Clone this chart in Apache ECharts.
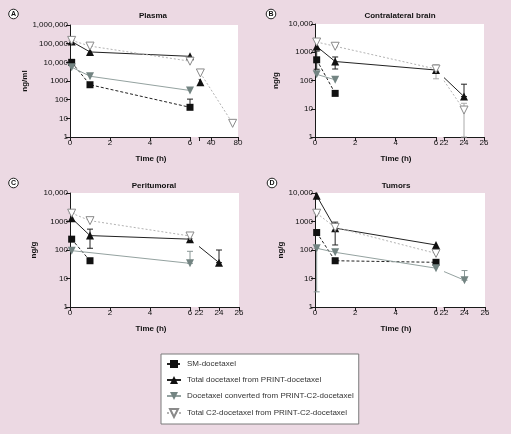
<!DOCTYPE html>
<html><head><meta charset="utf-8">
<script src="https://cdn.jsdelivr.net/npm/echarts@6/dist/echarts.min.js"></script>
<style>html,body{margin:0;padding:0;background:#ecd9e3;} #c{width:511px;height:434px;}</style>
</head><body><div id="c"></div>
<script>
// ---------- data ----------
const seriesNames = ['SM-docetaxel', 'Total docetaxel from PRINT-docetaxel', 'Docetaxel converted from PRINT-C2-docetaxel', 'Total C2-docetaxel from PRINT-C2-docetaxel'];
const panelTitles = ['Plasma', 'Contralateral brain', 'Peritumoral', 'Tumors'];
const panelLetters = ['A', 'B', 'C', 'D'];
const yNames = ['ng/ml', 'ng/g', 'ng/g', 'ng/g'];
const yMax = [1000000, 10000, 10000, 10000];
const xMaxEarly = 6;
const xTicksEarlyInterval = 2;
const xLateMin = 22;
const xLateMaxA = 80;
const xLateMax = 26;
const xLateTicksA = [22, 40, 80];
const xLateLabelsA = [40, 80];
const xLabel = 'Time (h)';

// [time (h), concentration]
const plasmaSM    = [[0.083, 10000], [1, 630], [6, 39]];
const plasmaTotal = [[0.083, 130000], [1, 36000], [6, 21000], [24, 850]];
const plasmaConv  = [[0.083, 5500], [1, 1800], [6, 310]];
const plasmaC2    = [[0.083, 150000], [1, 74000], [6, 11500], [24, 2700], [72, 5.4]];

const brainSM    = [[0.083, 540], [1, 35]];
const brainTotal = [[0.083, 1600], [1, 470], [6, 235], [24, 27]];
const brainConv  = [[0.083, 165], [1, 106]];
const brainC2    = [[0.083, 2300], [1, 1630], [6, 255], [24, 9]];

const periSM    = [[0.083, 240], [1, 42]];
const periTotal = [[0.083, 1300], [1, 320], [6, 240], [24, 36]];
const periConv  = [[0.083, 95], [6, 34]];
const periC2    = [[0.083, 1960], [1, 1070], [6, 310]];

const tumSM    = [[0.083, 410], [1, 42], [6, 37]];
const tumTotal = [[0.083, 8000], [1, 585], [6, 150]];
const tumConv  = [[0.083, 115], [1, 83], [6, 23], [24, 8.7]];
const tumC2    = [[0.083, 1950], [1, 620], [6, 76]];

// error bars: [time, low, high]
const plasmaSMErr = [[6, 39, 107]];
const plasmaTotalErr = [];
const plasmaConvErr = [];
const plasmaC2Err = [[0.083, 150000, 190000]];

const brainSMErr = [[0.083, 250, 1100]];
const brainTotalErr = [[1, 255, 680], [24, 27, 74]];
const brainConvErr = [];
const brainC2Err = [[6, 115, 362], [24, 1, 15.6]];

const periSMErr = [];
const periTotalErr = [[1, 115, 540], [24, 36, 100]];
const periConvErr = [[6, 34, 90]];
const periC2Err = [[0.083, 1960, 2300], [6, 250, 340]];

const tumSMErr = [];
const tumTotalErr = [[1, 150, 950]];
const tumConvErr = [[0.083, 3.4, 115], [24, 8.7, 19]];
const tumC2Err = [[0.083, 1950, 2450]];

const panelData = [
  [plasmaSM, plasmaTotal, plasmaConv, plasmaC2],
  [brainSM, brainTotal, brainConv, brainC2],
  [periSM, periTotal, periConv, periC2],
  [tumSM, tumTotal, tumConv, tumC2]
];
const panelErr = [
  [plasmaSMErr, plasmaTotalErr, plasmaConvErr, plasmaC2Err],
  [brainSMErr, brainTotalErr, brainConvErr, brainC2Err],
  [periSMErr, periTotalErr, periConvErr, periC2Err],
  [tumSMErr, tumTotalErr, tumConvErr, tumC2Err]
];

// ---------- layout / style ----------
const layout = [
  {ax: 70, top: 25, bottom: 137, s1r: 190, s2l: 199, right: 238, nameGap: 41, title: [153, 16], tx: [151, 159], lab: [13.5, 14]},
  {ax: 315, top: 24, bottom: 137, s1r: 436, s2l: 444, right: 484, nameGap: 35, title: [400, 16], tx: [396, 159], lab: [271, 14]},
  {ax: 70, top: 193, bottom: 307, s1r: 190, s2l: 199, right: 239, nameGap: 32, title: [154, 186], tx: [151, 329], lab: [13.5, 183]},
  {ax: 315, top: 193, bottom: 307, s1r: 436, s2l: 444, right: 485, nameGap: 27, title: [396, 186], tx: [396, 329], lab: [272, 183]}
];
const FONT = 'Liberation Sans, Arial, sans-serif';
const styles = [
  {symbol: 'rect', symbolSize: 7, itemStyle: {color: '#111'}, lineStyle: {color: '#222', type: [3, 2], width: 1}, err: '#222'},
  {symbol: 'triangle', symbolSize: 8, itemStyle: {color: '#111'}, lineStyle: {color: '#222', width: 1}, err: '#222'},
  {symbol: 'triangle', symbolRotate: 180, symbolSize: 8, itemStyle: {color: '#738482'}, lineStyle: {color: '#94a2a0', width: 1}, err: '#8a9896'},
  {symbol: 'triangle', symbolRotate: 180, symbolSize: 8, itemStyle: {color: '#ffffff', borderColor: '#8a8a8a', borderWidth: 1}, lineStyle: {color: '#b3b3b3', type: [2, 2], width: 1}, err: '#aaaaaa'}
];

function yFmt(v) {
  if (v >= 10000) return String(Math.round(v)).replace(/\B(?=(\d{3})+(?!\d))/g, ',');
  return String(Math.round(v));
}

let chart = null;
const grid = [], xAxis = [], yAxis = [], series = [], graphic = [];
const axisLineStyle = {show: true, lineStyle: {color: '#1a1a1a', width: 1}};
const tickStyle = {show: true, inside: false, length: 4, lineStyle: {color: '#1a1a1a', width: 1}};
const labStyle = {fontSize: 8, color: '#111', fontFamily: FONT, margin: 2};

layout.forEach((L, p) => {
  const h = L.bottom - L.top;
  const base = grid.length;
  grid.push({left: L.ax, top: L.top, width: L.right - L.ax, height: h, show: true, backgroundColor: '#ffffff', borderWidth: 0, containLabel: false, outerBoundsMode: 'none'});
  grid.push({left: L.ax, top: L.top, width: L.s1r - L.ax, height: h, containLabel: false, outerBoundsMode: 'none'});
  grid.push({left: L.s2l, top: L.top, width: L.right - L.s2l, height: h, containLabel: false, outerBoundsMode: 'none'});
  xAxis.push({gridIndex: base, type: 'value', show: false, min: 0, max: 1});
  yAxis.push({gridIndex: base, type: 'value', show: false, min: 0, max: 1});
  xAxis.push({gridIndex: base + 1, type: 'value', min: 0, max: xMaxEarly, interval: xTicksEarlyInterval,
    axisLine: axisLineStyle, axisTick: tickStyle, axisLabel: Object.assign({showMinLabel: true, showMaxLabel: true}, labStyle), splitLine: {show: false}});
  if (p === 0) {
    xAxis.push({gridIndex: base + 2, type: 'value', min: xLateMin, max: xLateMaxA,
      axisLine: axisLineStyle, axisTick: Object.assign({customValues: xLateTicksA}, tickStyle),
      axisLabel: Object.assign({customValues: xLateLabelsA}, labStyle), splitLine: {show: false}});
  } else {
    xAxis.push({gridIndex: base + 2, type: 'value', min: xLateMin, max: xLateMax, interval: 2,
      axisLine: axisLineStyle, axisTick: tickStyle, axisLabel: Object.assign({showMinLabel: true, showMaxLabel: true}, labStyle), splitLine: {show: false}});
  }
  const ybase = {type: 'log', logBase: 10, min: 1, max: yMax[p], splitLine: {show: false}, minorTick: {show: false}};
  yAxis.push(Object.assign({gridIndex: base + 1, axisLine: axisLineStyle, axisTick: tickStyle,
    axisLabel: Object.assign({formatter: yFmt, showMinLabel: true, showMaxLabel: true}, labStyle),
    name: yNames[p], nameLocation: 'middle', nameGap: L.nameGap, nameRotate: 90,
    nameTextStyle: {fontSize: 8, fontWeight: 'bold', color: '#111', fontFamily: FONT}}, ybase));
  yAxis.push(Object.assign({gridIndex: base + 2, show: false}, ybase));

  panelData[p].forEach((arr, k) => {
    const st = styles[k];
    const common = {
      type: 'line', name: seriesNames[k], symbol: st.symbol, symbolSize: st.symbolSize,
      symbolRotate: st.symbolRotate || 0, itemStyle: st.itemStyle, lineStyle: st.lineStyle,
      clip: false, animation: false, showAllSymbol: true, z: 3 + k, silent: true
    };
    const early = arr.filter(d => d[0] <= xMaxEarly);
    const late = arr.filter(d => d[0] > xMaxEarly);
    series.push(Object.assign({xAxisIndex: base + 1, yAxisIndex: base + 1, data: early}, common));
    if (late.length) {
      series.push(Object.assign({xAxisIndex: base + 2, yAxisIndex: base + 2, data: late}, common));
      if (early.length) {
        // bridge across the axis break: visible only inside the late segment
        const a = early[early.length - 1], b = late[0];
        const dash = Array.isArray(st.lineStyle.type) ? st.lineStyle.type : null;
        series.push({
          type: 'custom', xAxisIndex: base + 2, yAxisIndex: base + 2, data: [[b[0], b[1], a[0], a[1]]],
          encode: {x: 0, y: 1}, clip: false, z: 2, silent: true, animation: false,
          renderItem: function (params, api) {
            const p2 = api.coord([api.value(0), api.value(1)]);
            const y1 = api.coord([api.value(0), api.value(3)])[1];
            let x1 = chart ? chart.convertToPixel({xAxisIndex: base + 1}, api.value(2)) : NaN;
            if (!isFinite(x1)) x1 = L.s1r;
            const xs = params.coordSys.x;
            const t = (xs - x1) / (p2[0] - x1);
            const ys = y1 + t * (p2[1] - y1);
            return {type: 'line', shape: {x1: xs, y1: ys, x2: p2[0], y2: p2[1]},
              style: {stroke: st.lineStyle.color, lineWidth: 1, lineDash: dash}};
          }
        });
      }
    }
    const errs = panelErr[p][k];
    [[base + 1, errs.filter(d => d[0] <= xMaxEarly)], [base + 2, errs.filter(d => d[0] > xMaxEarly)]].forEach(([gi, ed]) => {
      if (!ed.length) return;
      series.push({
        type: 'custom', xAxisIndex: gi, yAxisIndex: gi, data: ed, clip: false, z: 2, silent: true, animation: false,
        encode: {x: 0, y: [1, 2]},
        renderItem: function (params, api) {
          const x = api.value(0);
          const lo = api.coord([x, api.value(1)]);
          const hi = api.coord([x, api.value(2)]);
          const w = 3;
          const s = {stroke: st.err, lineWidth: 1};
          return {type: 'group', children: [
            {type: 'line', shape: {x1: lo[0], y1: lo[1], x2: hi[0], y2: hi[1]}, style: s},
            {type: 'line', shape: {x1: lo[0] - w, y1: lo[1], x2: lo[0] + w, y2: lo[1]}, style: s},
            {type: 'line', shape: {x1: hi[0] - w, y1: hi[1], x2: hi[0] + w, y2: hi[1]}, style: s}
          ]};
        }
      });
    });
  });

  graphic.push({type: 'text', x: L.title[0], y: L.title[1], style: {text: panelTitles[p], font: 'bold 8px ' + FONT, fill: '#111', align: 'center', verticalAlign: 'middle'}});
  graphic.push({type: 'text', x: L.tx[0], y: L.tx[1], style: {text: xLabel, font: 'bold 8px ' + FONT, fill: '#111', align: 'center', verticalAlign: 'middle'}});
  graphic.push({type: 'circle', shape: {cx: L.lab[0], cy: L.lab[1], r: 4.8}, style: {fill: '#ffffff', stroke: '#222', lineWidth: 1}});
  graphic.push({type: 'text', x: L.lab[0], y: L.lab[1] + 0.5, style: {text: panelLetters[p], font: 'bold 7px ' + FONT, fill: '#111', align: 'center', verticalAlign: 'middle'}});
});

chart = echarts.init(document.getElementById('c'), null, {renderer: 'canvas'});
chart.setOption({
  backgroundColor: '#ecd9e3',
  animation: false,
  grid, xAxis, yAxis, series, graphic,
  legend: {
    data: seriesNames, orient: 'vertical', left: 161, top: 354, selectedMode: false,
    backgroundColor: '#ffffff', borderColor: '#7a7a7a', borderWidth: 1, borderRadius: 0,
    padding: [6, 5, 6, 5], itemWidth: 14, itemHeight: 10, itemGap: 8,
    textStyle: {fontSize: 8, color: '#333', fontFamily: FONT, padding: [0, 0, 0, 1]}
  }
});
</script></body></html>
